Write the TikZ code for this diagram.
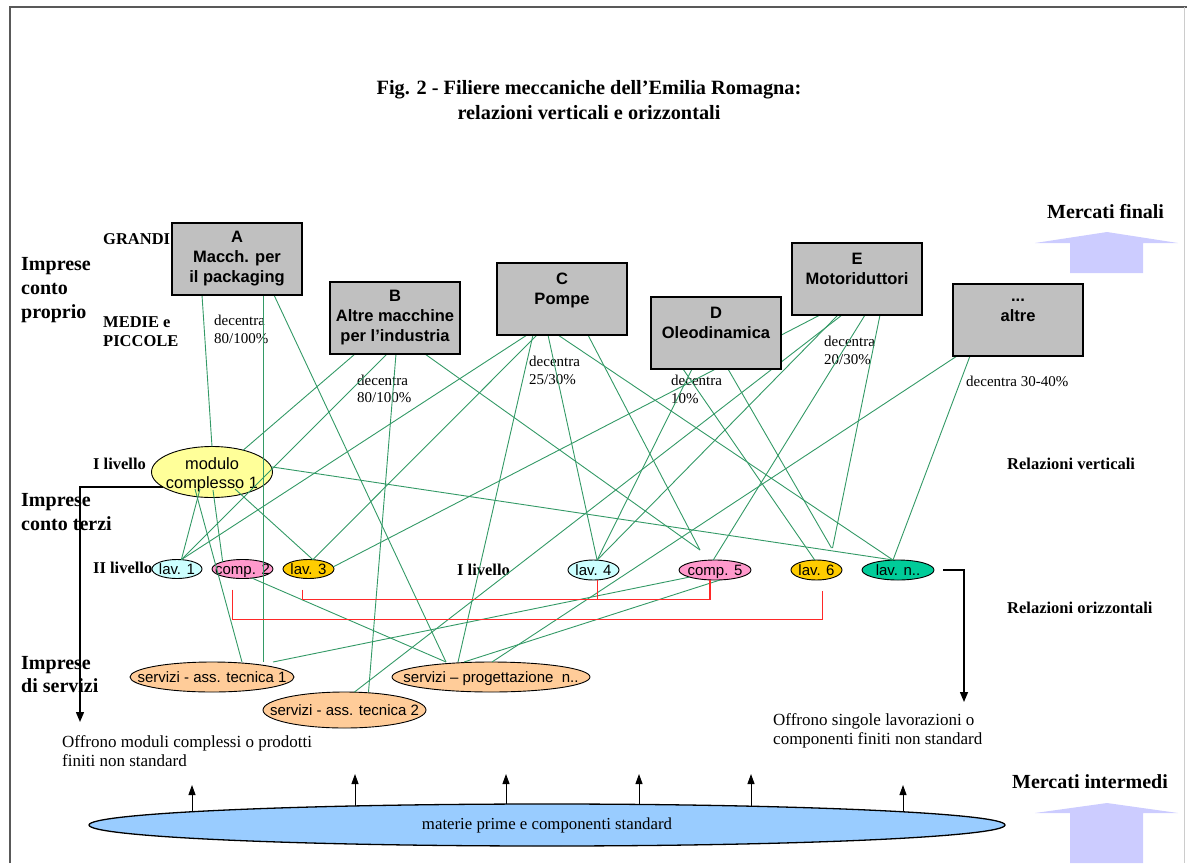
\documentclass[tikz,border=0pt]{standalone}
\usepackage{fontspec}
\setmainfont{Liberation Serif}
\setsansfont{Liberation Sans}
\usetikzlibrary{positioning, arrows.meta, shapes.geometric}
\definecolor{boxgray}{RGB}{192,192,192}
\definecolor{linkgreen}{RGB}{51,153,102}
\definecolor{linkred}{RGB}{255,40,40}
\definecolor{modyellow}{RGB}{255,255,153}
\definecolor{lavcyan}{RGB}{204,255,255}
\definecolor{comppink}{RGB}{255,153,204}
\definecolor{lavorange}{RGB}{255,204,0}
\definecolor{lavgreen}{RGB}{0,204,153}
\definecolor{servpeach}{RGB}{255,204,153}
\definecolor{matblue}{RGB}{153,204,255}
\definecolor{mktlilac}{RGB}{204,204,255}

\begin{document}
\begin{tikzpicture}[x=1pt, y=-1pt,
    firm/.style={draw, line width=1.2pt, fill=boxgray, minimum width=130pt, minimum height=72pt,
                 inner sep=0pt, outer sep=0pt, align=center,
                 font=\sffamily\bfseries\fontsize{16.5}{20}\selectfont},
    oval/.style={ellipse, draw, line width=0.9pt, inner sep=0pt, outer sep=0pt, minimum height=19pt},
    ovaltext/.style={anchor=center, inner sep=0pt, yshift=-2pt, text height=10.5pt, text depth=3pt,
                     font=\sffamily\fontsize{15}{19}\selectfont},
    modtext/.style={anchor=center, inner sep=0pt, yshift=-3pt, align=center,
                    font=\sffamily\fontsize{16.4}{19}\selectfont},
    lbl/.style={inner sep=0pt, anchor=west, align=left, font=\bfseries\fontsize{16.5}{19}\selectfont},
    bigl/.style={inner sep=0pt, anchor=west, align=left, font=\bfseries\fontsize{20}{24}\selectfont},
    quota/.style={inner sep=0pt, anchor=west, align=left, font=\fontsize{15}{17.5}\selectfont},
    note/.style={inner sep=0pt, anchor=west, align=left, font=\fontsize{17}{19.5}\selectfont},
    vrel/.style={linkgreen, line width=0.9pt},
    orel/.style={linkred, line width=1.4pt},
    flow/.style={line width=1.4pt, -{Triangle[width=8pt,length=10pt]}},
    supply/.style={line width=1pt, -{Triangle[width=7pt,length=10pt]}},
    market/.style={fill=mktlilac}]
\useasboundingbox (0,0) rectangle (1187,863);

% cornice
\draw[line width=1.5pt, black!65] (10,863) -- (10,7) -- (1187,7);
\draw[line width=1pt, black!20] (1184,7) -- (1184,863);

\node[inner sep=0pt, align=center, font=\bfseries\fontsize{20.3}{25}\selectfont] (title) at (589,100.5)
    {Fig. 2 - Filiere meccaniche dell'Emilia Romagna:\\relazioni verticali e orizzontali};

% etichette
\node[bigl] (mfin) at (1047,212) {Mercati finali};
\node[bigl] (icp) at (21,290) {Imprese\\conto\\proprio};
\node[lbl] (mep) at (103,332) {MEDIE e\\PICCOLE};
\node[lbl] (liv1) at (93,464) {I livello};
\node[lbl] (rver) at (1007,464) {Relazioni verticali};
\node[bigl] (ict) at (21,512) {Imprese\\conto terzi};
\node[lbl] (liv2) at (93,568) {II livello};
\node[lbl] (liv1b) at (457,570) {I livello};
\node[lbl] (rori) at (1007,608) {Relazioni orizzontali};
\node[bigl, font=\bfseries\fontsize{20}{23}\selectfont] (isv) at (21,675) {Imprese\\di servizi};
\node[note] (offl) at (62,751) {Offrono moduli complessi o prodotti\\finiti non standard};
\node[note] (offr) at (773,731) {Offrono singole lavorazioni o\\componenti finiti non standard};
\node[bigl] (mint) at (1012,782) {Mercati intermedi};

\node[quota] (qa) at (214,329.5) {decentra\\80/100\%};
\node[quota] (qb) at (357,389) {decentra\\80/100\%};
\node[quota] (qc) at (529,370.5) {decentra\\25/30\%};
\node[quota] (qd) at (671,389.5) {decentra\\10\%};
\node[quota] (qe) at (824,350.5) {decentra\\20/30\%};
\node[quota] (qf) at (966,381) {decentra 30-40\%};

% imprese conto terzi e servizi
\node[oval, fill=modyellow, minimum width=121pt, minimum height=51pt,
      label={[modtext]center:{modulo\\complesso 1}}] (mod) at (212,472) {};
\node[oval, fill=lavcyan, minimum width=50pt, label={[ovaltext]center:lav. 1}] (lav1) at (177,569) {};
\node[oval, fill=comppink, minimum width=61pt, label={[ovaltext]center:comp. 2}] (comp2) at (242.5,569) {};
\node[oval, fill=lavorange, minimum width=51pt, label={[ovaltext]center:lav. 3}] (lav3) at (308.5,569) {};
\node[oval, fill=lavcyan, minimum width=51pt, minimum height=20pt, label={[ovaltext]center:lav. 4}] (lav4) at (593.5,570) {};
\node[oval, fill=comppink, minimum width=72pt, minimum height=20pt, label={[ovaltext]center:comp. 5}] (comp5) at (715,570) {};
\node[oval, fill=lavorange, minimum width=51pt, minimum height=20pt, label={[ovaltext]center:lav. 6}] (lav6) at (816.5,570) {};
\node[oval, fill=lavgreen, minimum width=72pt, minimum height=20pt, label={[ovaltext]center:lav. n..}] (lavn) at (898,570) {};
\node[oval, fill=servpeach, minimum width=164pt, minimum height=30pt,
      label={[ovaltext]center:servizi - ass. tecnica 1}] (serv1) at (212,677) {};
\node[oval, fill=servpeach, minimum width=163pt, minimum height=36pt,
      label={[ovaltext]center:servizi - ass. tecnica 2}] (serv2) at (344.5,710) {};
\node[oval, fill=servpeach, minimum width=198pt, minimum height=30pt,
      label={[ovaltext]center:servizi – progettazione\ \ n..}] (prog) at (491,677) {};

% relazioni verticali
\coordinate (A0) at (172,295);
\coordinate (B0) at (330,354);
\coordinate (C0) at (497,335);
\coordinate (D0) at (651,369);
\coordinate (E0) at (792,315);
\coordinate (F0) at (953,356);
\draw[vrel] ([xshift=30pt]A0) -- (mod.north);
\draw[vrel] ([xshift=91pt]A0) -- ([xshift=51pt]serv1.north);
\draw[vrel] ([xshift=102pt]A0) -- ([xshift=-45pt]prog.north);
\draw[vrel] ([xshift=25pt]B0) -- (mod.35);
\draw[vrel] ([xshift=57pt]B0) -- (lav1.65);
\draw[vrel] ([xshift=66pt]B0) -- ([xshift=24pt]serv2.north);
\draw[vrel] ([xshift=95pt]B0) -- ([shift={(-15,-10)}]comp5.north);
\draw[vrel] ([xshift=30pt]C0) -- (lav1.65);
\draw[vrel] ([xshift=40pt]C0) -- (lav3.65);
\draw[vrel] ([xshift=36pt]C0) -- ([xshift=-33pt]prog.north);
\draw[vrel] ([xshift=51pt]C0) -- (lav4.70);
\draw[vrel] ([xshift=61pt]C0) -- ([xshift=-5pt]lavn.north);
\draw[vrel] ([xshift=91pt]C0) -- ([shift={(-15,-10)}]comp5.north);
\draw[vrel] ([xshift=41pt]D0) -- (lav4.70);
\draw[vrel] ([xshift=32pt]D0) -- (lav6.100);
\draw[vrel] ([xshift=77pt]D0) -- ([shift={(15,-12)}]lav6.north);
\draw[vrel] ([xshift=28pt]E0) -- (lav3.5);
\draw[vrel] ([xshift=50pt]E0) -- ([xshift=10pt]serv2.north);
\draw[vrel] ([xshift=46pt]E0) -- (lav4.70);
\draw[vrel] ([xshift=73pt]E0) -- (comp5.100);
\draw[vrel] ([xshift=88pt]E0) -- ([shift={(16,-12)}]lav6.north);
\draw[vrel] ([xshift=4pt]F0) -- ([xshift=1pt]prog.north);
\draw[vrel] ([xshift=17pt]F0) -- ([xshift=-5pt]lavn.north);
\draw[vrel] ([shift={(-12,17)}]mod.center) -- (lav1.65);
\draw[vrel] ([shift={(1,18)}]mod.center) -- (comp2.160);
\draw[vrel] ([shift={(23,17)}]mod.center) -- (lav3.65);
\draw[vrel] ([shift={(-17,17)}]mod.center) -- ([xshift=30pt]serv1.north);
\draw[vrel] (mod.5) -- ([xshift=-5pt]lavn.north);
\draw[vrel] (comp2.316) -- ([xshift=-45pt]prog.north);
\draw[vrel] (comp5.south west) -- ([xshift=61pt]serv1.north);
\draw[vrel] ([xshift=5pt]comp5.south) -- ([xshift=-27pt]prog.north);

% imprese conto proprio
\node[lbl] (grandi) at (103,239) {GRANDI};
\node[firm, anchor=south west] (A) at (A0) {A\\Macch. per\\il packaging};
\node[firm, anchor=south west] (B) at (B0) {B\\Altre macchine\\per l'industria};
\node[firm, anchor=south west] (C) at (C0) {C\\Pompe\\\mbox{}};
\node[firm, anchor=south west] (D) at (D0) {D\\Oleodinamica\\\mbox{}};
\node[firm, anchor=south west] (E) at (E0) {E\\Motoriduttori\\\mbox{}};
\node[firm, anchor=south west] (F) at (F0) {...\\altre\\\mbox{}};

% relazioni orizzontali
\draw[orel] ([shift={(-10,11)}]comp2.south) -- ++(0,30) -| ([shift={(6,11)}]lav6.south);
\draw[orel] ([shift={(-6,11)}]lav3.south) -- ++(0,10) -| ([xshift=-5pt]comp5.south);
\draw[orel] ([xshift=4pt]lav4.south) -- ++(0,20);

\coordinate (leftdrop) at (80,722);
\coordinate (rightdrop) at (964,702);
\draw[flow] (mod.197) -| (leftdrop);
\draw[flow] ([xshift=9pt]lavn.east) -| (rightdrop);

% mercati intermedi
\coordinate (matc) at (547,825);
\foreach \x/\t [count=\i] in {192/785, 355/774, 506/774, 639/774, 751/774, 903/785} {
    \coordinate (up\i) at (\x,\t);
    \draw[supply] (up\i |- matc) -- (up\i);
}
\node[ellipse, draw, line width=1.3pt, fill=matblue, inner sep=0pt, minimum width=916pt, minimum height=42pt,
      font=\fontsize{16.8}{18}\selectfont] (mat) at (matc) {materie prime e componenti standard};

\fill[market] (1070,273) -- (1070,243) -- (1035,243) -- (1107,232) -- (1178,243) -- (1143,243) -- (1143,273) -- cycle;
\fill[market] (1070,863) -- (1070,813) -- (1035,813) -- (1107,803) -- (1178,813) -- (1143,813) -- (1143,863) -- cycle;
\end{tikzpicture}
\end{document}
